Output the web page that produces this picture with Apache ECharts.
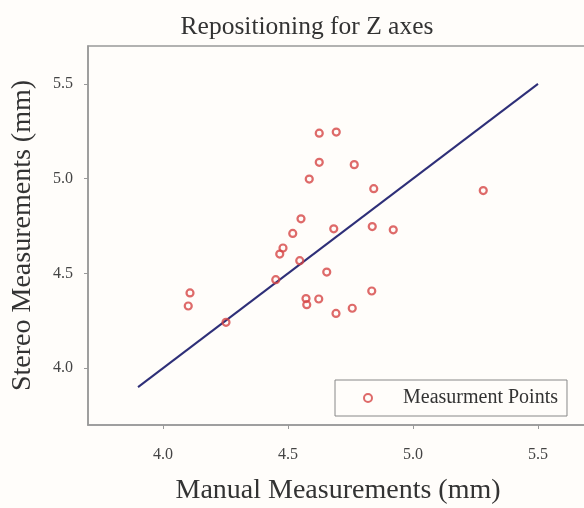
<!DOCTYPE html>
<html>
<head>
<meta charset="utf-8">
<script src="https://cdn.jsdelivr.net/npm/echarts@6/dist/echarts.min.js"></script>
<style>
  html, body { margin: 0; padding: 0; background: #fffdfa; }
  #chart { width: 584px; height: 508px; }
</style>
</head>
<body>
<div id="chart"></div>
<script>
const manualValues = [4.625, 4.693, 4.625, 4.765, 4.585, 4.843, 5.281, 4.552, 4.519,
    4.683, 4.837, 4.921, 4.480, 4.467, 4.547, 4.655, 4.451, 4.835, 4.572, 4.623,
    4.575, 4.757, 4.692, 4.108, 4.101, 4.252];
const stereoValues = [5.240, 5.246, 5.086, 5.074, 4.998, 4.947, 4.937, 4.788, 4.711,
    4.735, 4.747, 4.730, 4.634, 4.602, 4.567, 4.507, 4.467, 4.407, 4.367, 4.365,
    4.335, 4.316, 4.289, 4.397, 4.328, 4.242];
const fitX = [3.9, 5.5];
const fitY = [3.9, 5.5];
const tickValues = [4.0, 4.5, 5.0, 5.5];

const serif = '"Liberation Serif", "DejaVu Serif", serif';

const chart = echarts.init(document.getElementById('chart'));

function axis(name, gap, labelMargin) {
    return {
        type: 'value',
        min: 3.7,
        max: 5.7,
        name: name,
        nameLocation: 'middle',
        nameGap: gap,
        nameTextStyle: { fontFamily: serif, fontSize: 28, color: '#333' },
        splitLine: { show: false },
        axisLine: { show: true, lineStyle: { color: '#999', width: 1.5 } },
        axisTick: { show: true, length: 4, lineStyle: { color: '#999' }, customValues: tickValues },
        axisLabel: {
            fontFamily: serif, fontSize: 16, color: '#444', margin: labelMargin,
            customValues: tickValues,
            formatter: v => v.toFixed(1)
        }
    };
}

chart.setOption({
    backgroundColor: '#fffdfa',
    title: {
        text: 'Repositioning for Z axes',
        left: 302,
        textAlign: 'center',
        top: 9,
        textStyle: { fontFamily: serif, fontSize: 25.5, fontWeight: 'normal', color: '#333' }
    },
    legend: {
        left: 335,
        top: 380,
        padding: [8, 9, 8, 28],
        icon: 'circle',
        itemWidth: 8,
        itemHeight: 8,
        itemStyle: { color: 'rgba(0,0,0,0)', borderColor: '#d64545', borderWidth: 2 },
        borderColor: '#888',
        borderWidth: 1,
        borderRadius: 0,
        backgroundColor: '#fffdfa',
        textStyle: { fontFamily: serif, fontSize: 20, color: '#333', padding: [0, 0, 0, 26] },
        data: ['Measurment Points']
    },
    grid: {
        left: 88,
        top: 46,
        width: 500,
        height: 379,
        outerBoundsMode: 'none',
        containLabel: false,
        show: true,
        borderColor: '#999',
        borderWidth: 1.5
    },
    xAxis: axis('Manual Measurements (mm)', 52, 22),
    yAxis: axis('Stereo Measurements (mm)', 51, 15),
    series: [
        {
            name: 'Fit',
            type: 'line',
            data: fitX.map((x, i) => [x, fitY[i]]),
            showSymbol: false,
            lineStyle: { color: '#2e2f78', width: 2 },
            z: 1
        },
        {
            name: 'Measurment Points',
            type: 'scatter',
            data: manualValues.map((x, i) => [x, stereoValues[i]]),
            symbol: 'circle',
            symbolSize: 7,
            itemStyle: { color: 'rgba(0,0,0,0)', borderColor: '#d64545', borderWidth: 2.2 },
            z: 3
        }
    ]
});
</script>
</body>
</html>
